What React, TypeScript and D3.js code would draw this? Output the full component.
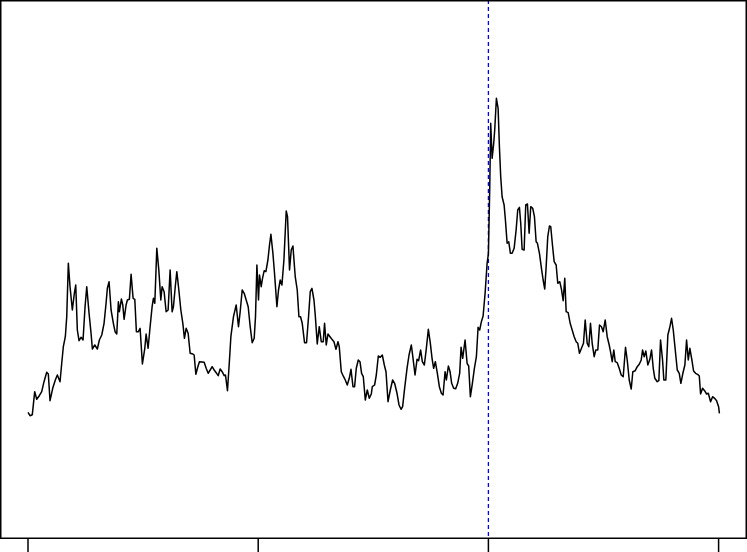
import React from "react";
import * as d3 from "d3";

// time (units along x axis) and series values
const times: number[] = [
  0, 2, 4.3, 6.7, 8.7, 11.3, 13.7, 16, 18.7, 20.3, 22, 24.7, 27.3, 29.3, 32, 33.7, 35.3, 37.3, 38.7, 40.3,
  42, 44.3, 46.3, 47.7, 49.3, 51, 53, 55, 57, 58.7, 61, 63, 64.3, 66.7, 69.3, 71.3, 73.7, 76, 78, 79.3,
  81, 83, 85.3, 87, 88.7, 90.3, 91.3, 93.3, 94.7, 96, 98, 99.3, 101.3, 103, 105, 106.7, 108.3, 110.3, 112, 114.3,
  116.7, 118, 120, 122, 124, 125.3, 126.7, 128.7, 130.7, 132.7, 134, 136, 138, 140, 142, 144, 145.3, 147.3, 148.7, 150.7,
  152.7, 154.7, 156.3, 158, 160, 162, 164.7, 166, 167.7, 169.7, 171.3, 174, 176, 178, 180, 182, 184, 186, 188, 190,
  192, 194, 196, 197.3, 199.3, 201.3, 202.7, 205.3, 208, 210.3, 212, 214, 216, 218, 220, 222, 224, 226, 227.3, 228.7,
  230.3, 231.3, 233, 234.3, 236, 237.7, 239.7, 241.3, 242.7, 244.7, 246.3, 248.7, 250.3, 252, 253.7, 255.7, 258, 259.3, 261.3, 263,
  264.7, 267, 269, 270.7, 272.3, 274, 276.3, 278.3, 280.3, 282, 283.7, 285.7, 287, 289, 291, 293, 295, 296.3, 298, 299.7,
  301.7, 303.7, 305.7, 307.7, 309.7, 311, 313, 315.3, 317, 319, 321, 322.7, 324.7, 326.3, 328, 330, 331.7, 333.3, 335, 337,
  339, 341, 343, 344, 346.3, 348, 350, 352, 354, 356, 357.7, 359.7, 362, 364.3, 366.3, 368.7, 370.7, 372.7, 374.3, 376.3,
  378.7, 380.7, 383, 384.7, 386.7, 388.7, 390.3, 392.3, 394, 396, 398, 400, 402, 403.7, 405.3, 407, 409, 411, 413, 414.7,
  416.7, 418, 420, 421.7, 423.3, 425.3, 427.3, 429.3, 431.3, 432.7, 434.3, 436.7, 438.7, 440.3, 442, 444, 446, 448, 449.7, 451.3,
  453, 454.7, 456.7, 458.7, 460, 461.3, 462.3, 463.7, 465.3, 466.3, 468, 469.7, 471, 472.3, 473.7, 475.7, 477, 478.7, 480.3, 482,
  483.7, 485.7, 487.7, 489.3, 491, 492.3, 493.7, 495.7, 497.3, 499, 500.7, 502.3, 504.3, 506, 507.7, 509, 511, 513, 514.7, 516.3,
  517.7, 519.3, 521, 522.3, 524, 525.7, 527.7, 529.3, 531.3, 533, 534.7, 536.3, 537.7, 539.7, 541.7, 543.7, 545.7, 547.7, 549.3, 551,
  553, 555, 556.7, 558.7, 560.3, 562, 563.7, 565.7, 567.3, 569.3, 571, 573, 574.7, 576.7, 578.7, 580.7, 582, 583.7, 585.3, 586.7,
  588.7, 590.7, 592.7, 594.7, 597, 598.7, 600.7, 602.7, 604.3, 606.7, 608.7, 610.7, 612.7, 614, 615.7, 617.3, 619.3, 621.3, 623, 624.7,
  626.3, 628.7, 630.3, 632, 634, 635.3, 637.3, 639.3, 641, 643, 644.7, 646.7, 648.7, 650.7, 652.3, 654.3, 656.3, 658, 659.7, 661.3,
  663.3, 665, 667, 669, 670.7, 672, 674, 676, 678, 679.7, 682, 684, 686, 688, 690, 690.8,
];

const values: number[] = [
  1.257, 1.223, 1.233, 1.463, 1.387, 1.423, 1.463, 1.563, 1.657, 1.64, 1.373, 1.497, 1.58, 1.63, 1.563, 1.747, 1.913, 2.013, 2.213, 2.747,
  2.513, 2.28, 2.447, 2.53, 2.08, 1.973, 2.007, 1.98, 2.313, 2.513, 2.247, 2.047, 1.89, 1.93, 1.89, 1.98, 2.03, 2.147, 2.347, 2.497,
  2.563, 2.28, 2.147, 2.063, 2.04, 2.363, 2.263, 2.39, 2.33, 2.187, 2.33, 2.38, 2.387, 2.637, 2.397, 2.387, 2.063, 2.063, 2.097, 1.74,
  1.897, 2.04, 1.897, 2.113, 2.313, 2.397, 2.347, 2.897, 2.68, 2.38, 2.513, 2.463, 2.263, 2.28, 2.68, 2.263, 2.313, 2.53, 2.663, 2.48,
  2.28, 2.147, 1.997, 2.097, 2.047, 1.847, 1.84, 1.83, 1.637, 1.713, 1.763, 1.76, 1.757, 1.697, 1.647, 1.68, 1.713, 1.68, 1.653, 1.623,
  1.69, 1.663, 1.623, 1.63, 1.473, 1.78, 2.013, 2.213, 2.33, 2.113, 2.263, 2.48, 2.447, 2.38, 2.313, 2.113, 1.953, 1.997, 2.213, 2.73,
  2.38, 2.63, 2.513, 2.597, 2.673, 2.663, 2.78, 2.93, 3.037, 2.847, 2.647, 2.313, 2.48, 2.58, 2.53, 2.78, 3.27, 3.213, 2.68, 2.88,
  2.92, 2.613, 2.48, 2.213, 2.213, 2.147, 1.953, 1.953, 2.213, 2.463, 2.497, 2.38, 2.23, 1.94, 2.113, 1.963, 1.963, 2.147, 1.93, 2.04,
  2.013, 1.987, 1.963, 1.887, 1.963, 1.913, 1.663, 1.613, 1.58, 1.53, 1.597, 1.687, 1.513, 1.513, 1.697, 1.78, 1.763, 1.647, 1.613, 1.38,
  1.48, 1.397, 1.44, 1.513, 1.53, 1.63, 1.82, 1.807, 1.83, 1.73, 1.663, 1.363, 1.48, 1.58, 1.547, 1.447, 1.33, 1.287, 1.313, 1.497,
  1.697, 1.83, 1.93, 1.797, 1.63, 1.787, 1.773, 1.88, 1.763, 1.73, 1.897, 2.087, 1.947, 1.797, 1.697, 1.763, 1.647, 1.513, 1.447, 1.43,
  1.663, 1.58, 1.72, 1.663, 1.547, 1.497, 1.493, 1.547, 1.647, 1.907, 1.797, 1.98, 1.747, 1.72, 1.413, 1.547, 1.697, 1.813, 2.107, 2.08,
  2.163, 2.22, 2.447, 2.747, 2.84, 3.48, 4.147, 3.797, 3.947, 4.08, 4.397, 4.297, 3.913, 3.613, 3.413, 3.33, 3.18, 2.947, 2.963, 2.847,
  2.847, 2.897, 3.08, 3.28, 3.307, 3.147, 2.887, 2.88, 3.33, 3.34, 3.047, 3.313, 3.297, 3.213, 2.963, 2.947, 2.847, 2.697, 2.58, 2.49,
  2.713, 3.013, 3.12, 3.113, 2.93, 2.763, 2.73, 2.547, 2.563, 2.487, 2.373, 2.597, 2.263, 2.253, 2.147, 2.08, 2.013, 1.963, 1.947, 1.847,
  1.897, 1.947, 2.18, 1.947, 1.913, 2.147, 1.947, 1.813, 1.88, 1.88, 2.13, 2.113, 2.063, 2.18, 2.013, 1.93, 1.863, 1.763, 1.88, 1.763,
  1.753, 1.697, 1.63, 1.613, 1.907, 1.78, 1.58, 1.49, 1.663, 1.673, 1.713, 1.737, 1.78, 1.88, 1.813, 1.87, 1.73, 1.787, 1.88, 1.697,
  1.597, 1.563, 1.573, 1.98, 1.78, 1.58, 1.58, 2.03, 2.097, 2.197, 2.08, 1.88, 1.68, 1.647, 1.547, 1.647, 1.73, 1.98, 1.78, 1.897,
  1.78, 1.67, 1.647, 1.637, 1.62, 1.44, 1.497, 1.473, 1.44, 1.447, 1.363, 1.413, 1.397, 1.373, 1.313, 1.247,
];

const xTicks: number[] = [0, 230, 460, 690];
const cutoff = 460;
const xDomain: [number, number] = [0, 690];
const yDomain: [number, number] = [0, 5.38];

const W = 747;
const H = 552;

export default function App() {
  const x = d3.scaleLinear().domain(xDomain).range([28, 718.6]);
  const y = d3.scaleLinear().domain(yDomain).range([538, 0]);

  const pts: [number, number][] = times.map((t, i) => [t, values[i]]);
  const line = d3
    .line<[number, number]>()
    .x((d) => x(d[0]))
    .y((d) => y(d[1]));

  return (
    <svg
      width={W}
      height={H}
      style={{ position: "absolute", left: 0, top: 0, background: "#fff" }}
    >
      <rect x={0} y={0} width={W} height={H} fill="#fff" />
      <line
        x1={x(cutoff)}
        x2={x(cutoff)}
        y1={0}
        y2={538}
        stroke="#0000ff"
        strokeWidth={1.3}
        strokeDasharray="4,3"
      />
      <path d={line(pts) || ""} fill="none" stroke="#000" strokeWidth={1.5} strokeLinejoin="round" />
      <rect x={0.75} y={0.75} width={745.5} height={537.5} fill="none" stroke="#000" strokeWidth={1.5} />
      {xTicks.map((t) => (
        <line key={t} x1={x(t)} x2={x(t)} y1={538} y2={H} stroke="#000" strokeWidth={1.5} />
      ))}
    </svg>
  );
}
